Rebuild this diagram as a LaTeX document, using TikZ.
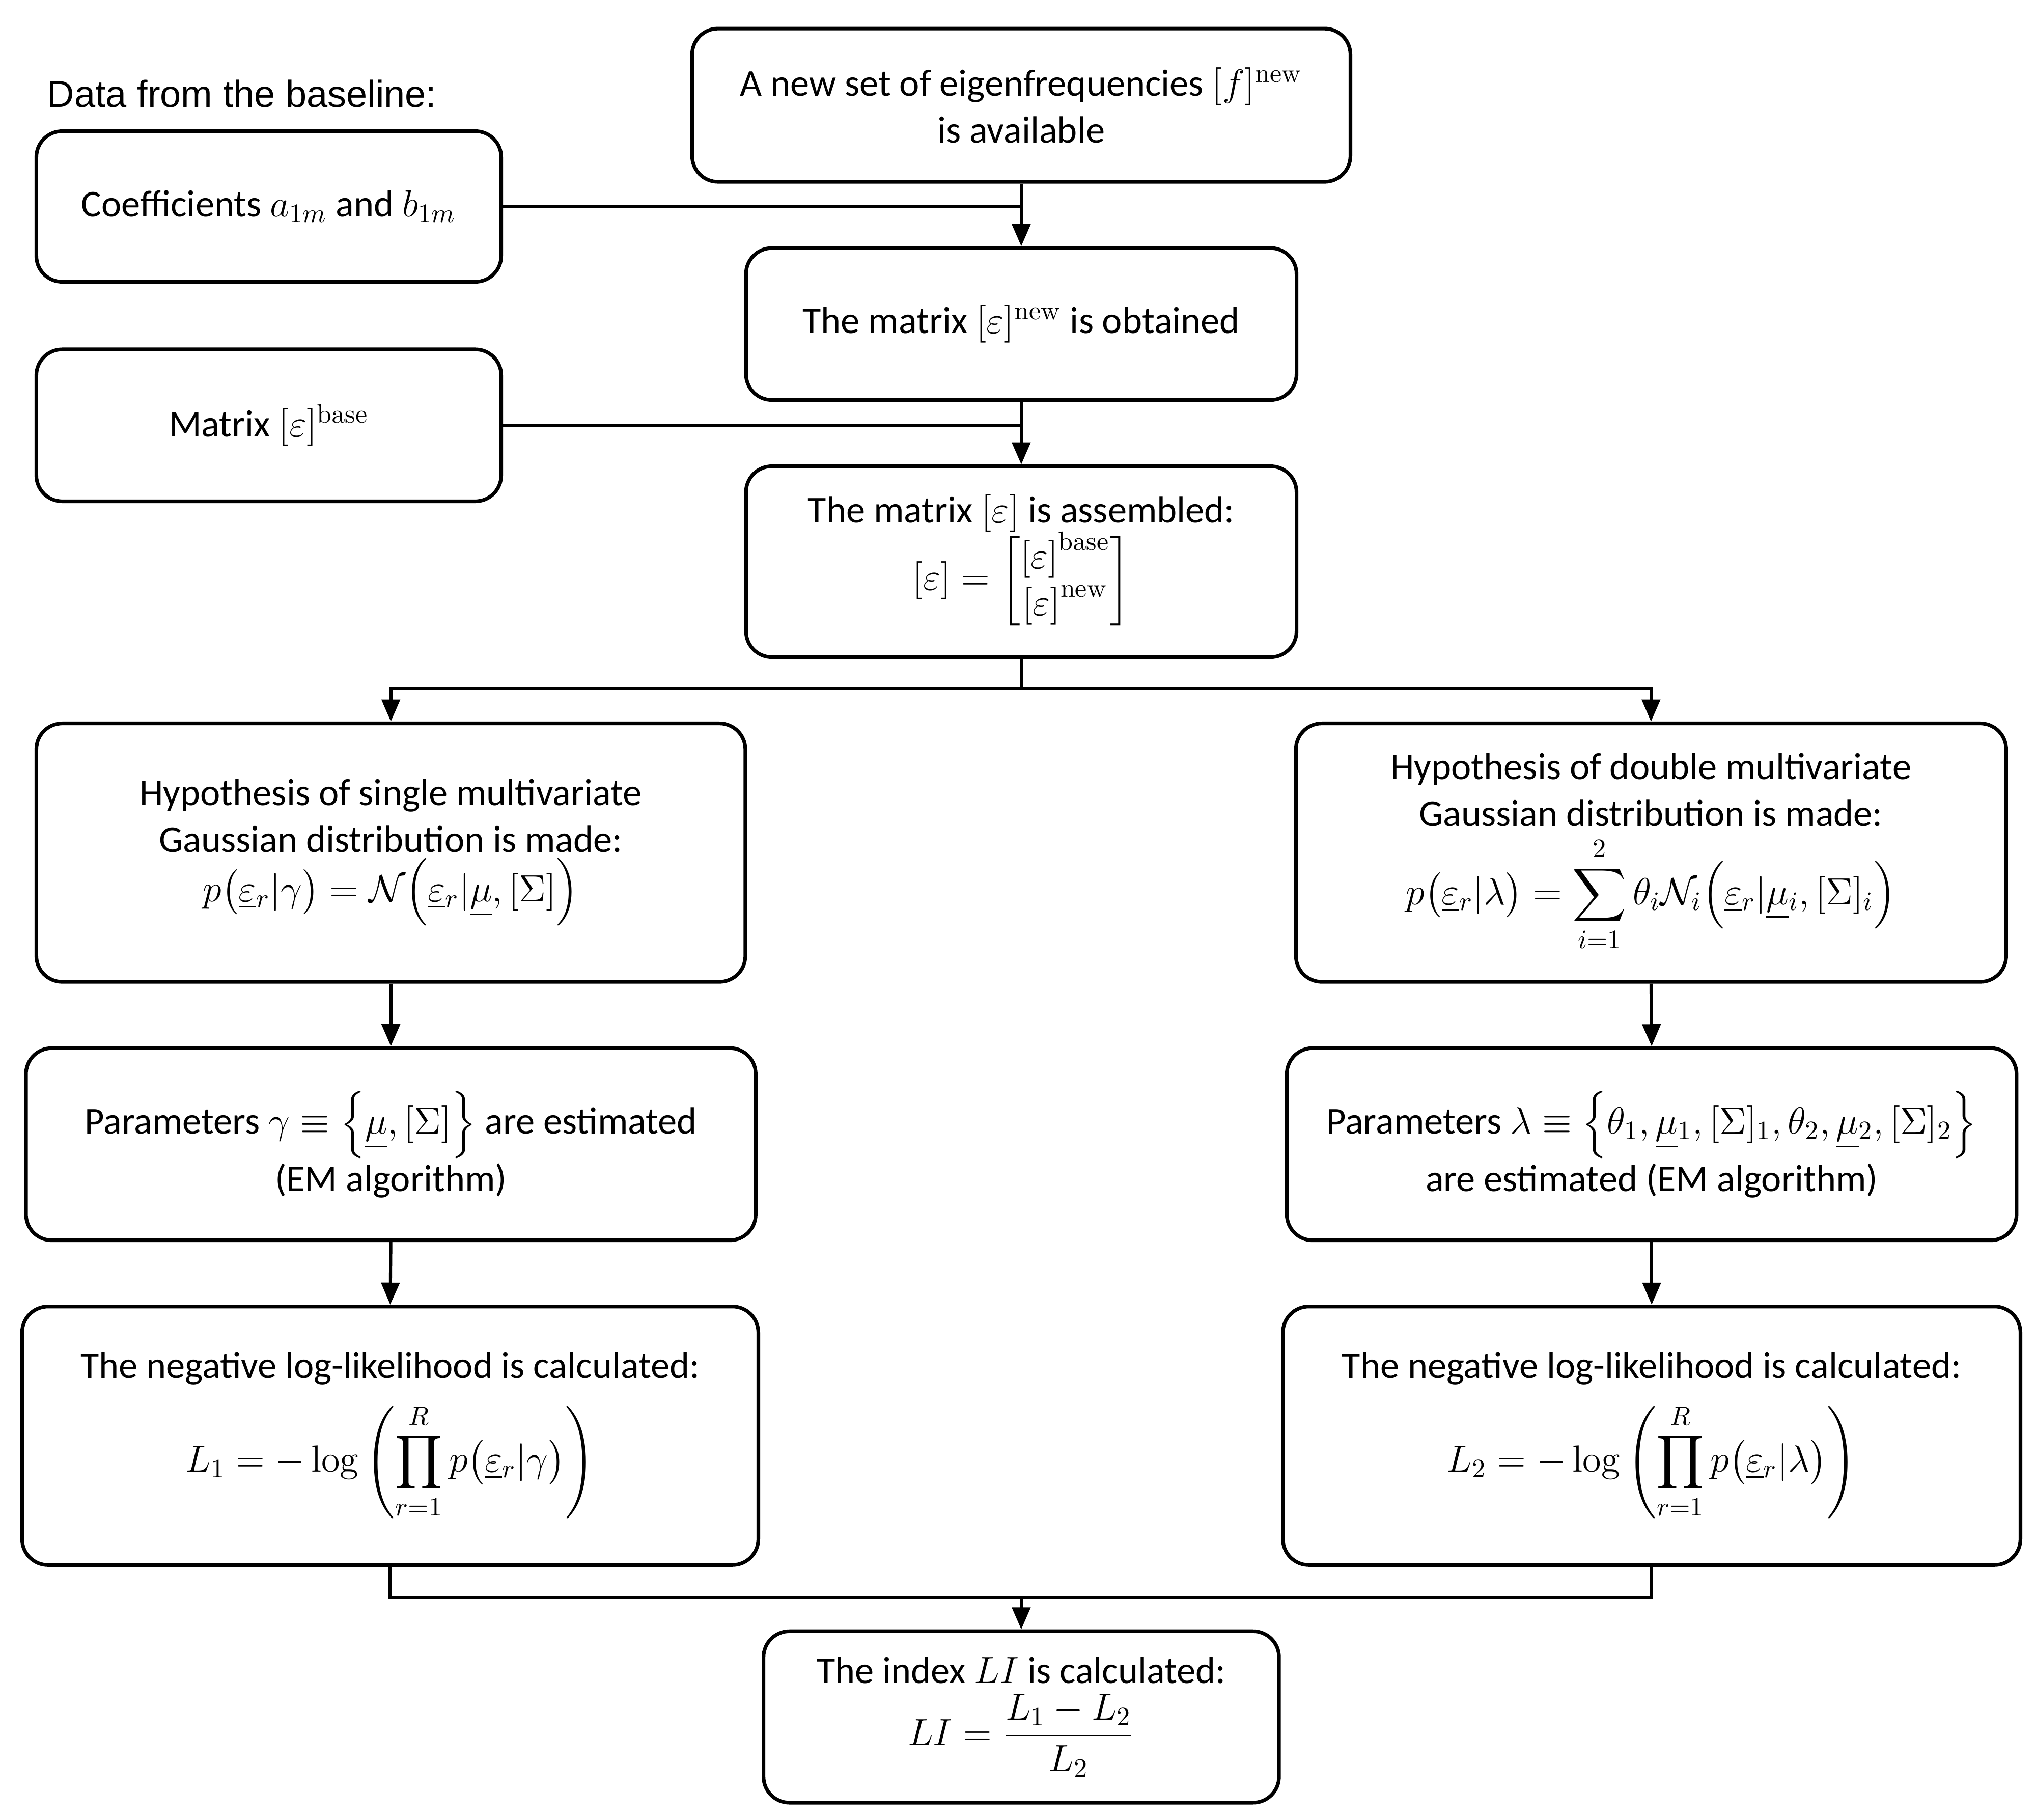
\RequirePackage{fix-cm}
\documentclass[tikz,border=0pt]{standalone}
\usepackage{amsmath}
\usepackage[no-math]{fontspec}
\setmainfont{Carlito}
\newfontfamily\arialfont{Liberation Sans}
\usetikzlibrary{arrows.meta}
\newcommand{\ueps}{\smash[b]{\underline{\varepsilon}}}
\newcommand{\umu}{\smash[b]{\underline{\mu}}}
\begin{document}
\begin{tikzpicture}[x=0.5pt,y=-0.5pt,
  box/.style={draw, line width=1.4pt, rounded corners=10pt, align=center, inner sep=0pt,
    font=\fontsize{14.6}{18}\selectfont},
  conn/.style={line width=1.2pt},
  arr/.style={conn, -{Triangle[width=7pt,length=8.5pt]}}]
\useasboundingbox (0,0) rectangle (1568,1401);

\node[anchor=west, inner sep=0pt, font=\arialfont\fontsize{14.5}{17}\selectfont] (lbl) at (36,72) {Data from the baseline:};

\node[box, minimum width=179pt, minimum height=58pt] (coef) at (207,159)
  {Coefficients $a_{1m}$ and $b_{1m}$};
\node[box, minimum width=253.5pt, minimum height=59pt] (top) at (786.5,81)
  {A new set of eigenfrequencies $[f]^{\mathrm{new}}$\\is available};
\node[box, minimum width=212pt, minimum height=58.5pt] (obt) at (786.5,249.5)
  {The matrix $[\varepsilon]^{\mathrm{new}}$ is obtained};
\node[box, minimum width=179pt, minimum height=58.5pt] (base) at (207,327.5)
  {Matrix $[\varepsilon]^{\mathrm{base}}$};
\node[box, minimum width=212pt, minimum height=73.5pt] (asm) at (786.5,432.5)
  {The matrix $[\varepsilon]$ is assembled:\\[-1pt]
   $[\varepsilon]=\begin{bmatrix}{[\varepsilon]}^{\mathrm{base}}\\ {[\varepsilon]}^{\mathrm{new}}\end{bmatrix}$};

\node[box, minimum width=273pt, minimum height=99.5pt] (hypL) at (301,656.5)
  {Hypothesis of single multivariate\\Gaussian distribution is made:\\[1pt]
   $p\bigl(\ueps_r|\gamma\bigr)=\mathcal{N}\Bigl(\ueps_r|\umu,[\Sigma]\Bigr)$};
\node[box, minimum width=273.5pt, minimum height=99.5pt] (hypR) at (1271.5,656.5)
  {Hypothesis of double multivariate\\Gaussian distribution is made:\\[3pt]
   $p\bigl(\ueps_r|\lambda\bigr)=\displaystyle\sum_{i=1}^{2}\theta_i\mathcal{N}_i\Bigl(\ueps_r|\umu_i,[\Sigma]_i\Bigr)$};

\node[box, minimum width=281pt, minimum height=74pt] (parL) at (301,881)
  {Parameters $\gamma\equiv\Bigl\{\umu,[\Sigma]\Bigr\}$ are estimated\\[1pt](EM algorithm)};
\node[box, minimum width=281pt, minimum height=74pt] (parR) at (1272,881)
  {Parameters $\lambda\equiv\Bigl\{\theta_1,\umu_1,[\Sigma]_1,\theta_2,\umu_2,[\Sigma]_2\Bigr\}$\\[1pt]are estimated (EM algorithm)};

\node[box, minimum width=283.5pt, minimum height=99.5pt] (nllL) at (300.5,1105.5)
  {The negative log-likelihood is calculated:\\[6pt]
   $L_1=-\log\left(\displaystyle\prod_{r=1}^{R}p\bigl(\ueps_r|\gamma\bigr)\right)$};
\node[box, minimum width=284pt, minimum height=99.5pt] (nllR) at (1272,1105.5)
  {The negative log-likelihood is calculated:\\[6pt]
   $L_2=-\log\left(\displaystyle\prod_{r=1}^{R}p\bigl(\ueps_r|\lambda\bigr)\right)$};

\node[box, minimum width=198.5pt, minimum height=66pt] (li) at (786.5,1322)
  {The index $LI$ is calculated:\\[3pt]
   $LI=\dfrac{L_1-L_2}{L_2}$};

\coordinate (split) at (786.5,530);
\coordinate (merge) at (786.5,1230);

\draw[arr] (top.south) -- (obt.north);
\draw[conn] (coef.east) -- (coef.east -| top.south);
\draw[arr] (obt.south) -- (asm.north);
\draw[conn] (base.east) -- (base.east -| obt.south);
\draw[conn] (asm.south) -- (split);
\draw[arr] (split) -| (hypL.north);
\draw[arr] (split) -| (hypR.north);
\draw[arr] (hypL.south) -- (parL.north);
\draw[arr] (parL.south) -- (nllL.north);
\draw[arr] (hypR.south) -- (parR.north);
\draw[arr] (parR.south) -- (nllR.north);
\draw[conn] (nllL.south) |- (merge);
\draw[conn] (nllR.south) |- (merge);
\draw[arr] (merge) -- (li.north);
\end{tikzpicture}
\end{document}
